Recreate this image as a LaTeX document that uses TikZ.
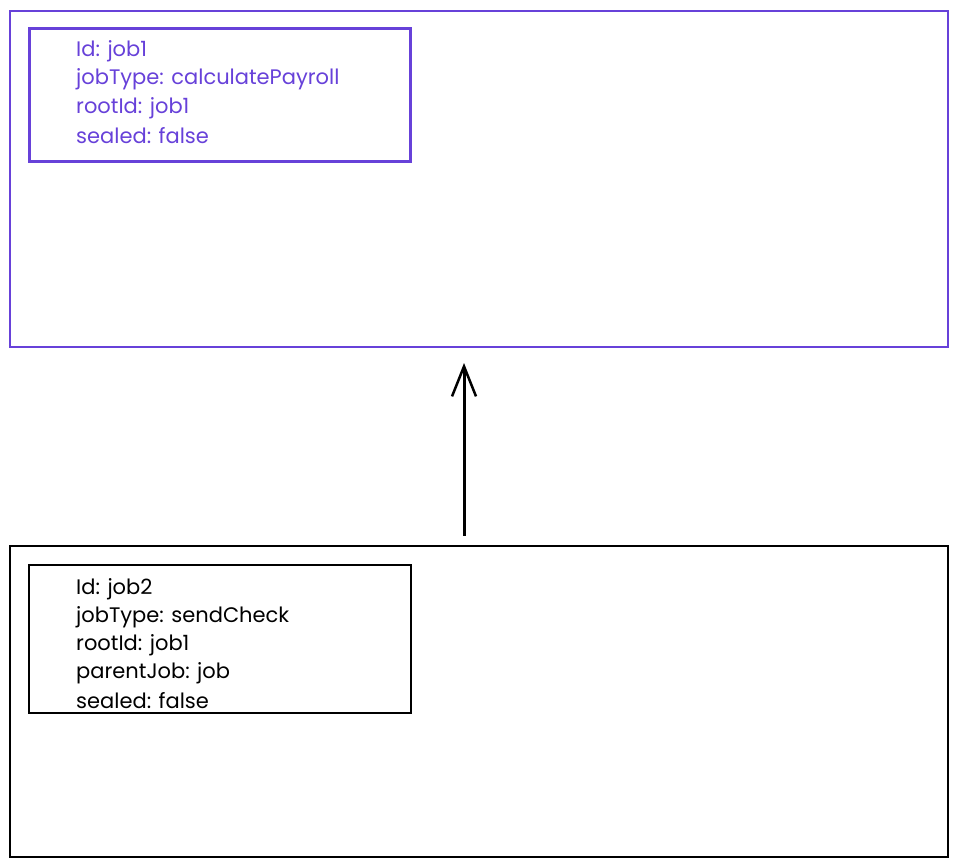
\documentclass[tikz,border=0pt]{standalone}
\usepackage{fontspec}
\setmainfont{Poppins}
\usetikzlibrary{arrows.meta}
\definecolor{violet}{RGB}{103,65,217}
\tikzset{
  box/.style={draw, rectangle, inner sep=0pt},
  outerbox/.style={box, line width=2pt},
  innerbox/.style={box, line width=3pt},
  txt/.style={anchor=west, inner sep=0pt, font=\fontsize{21}{24}\selectfont},
  arrowline/.style={line width=3pt, -{Straight Barb[length=30pt,width=24pt,line width=2.5pt]}}
}
\begin{document}
\begin{tikzpicture}[x=1pt,y=-1pt]
\useasboundingbox (0,0) rectangle (960,867);
% top boxes
\node[outerbox, draw=violet, minimum width=938pt, minimum height=336pt] (top) at (479,179) {};
\node[innerbox, draw=violet, minimum width=381pt, minimum height=132pt] (topin) at (219.5,95) {};
\node[txt, text=violet] (t1) at (76,51) {Id: job1};
\node[txt, text=violet] (t2) at (76,79) {jobType: calculatePayroll};
\node[txt, text=violet] (t3) at (76,108) {rootId: job1};
\node[txt, text=violet] (t4) at (76,136) {sealed: false};
% bottom boxes
\node[outerbox, line width=2.5pt, minimum width=938pt, minimum height=311pt] (bot) at (479,701.5) {};
\node[innerbox, line width=2.5pt, minimum width=382pt, minimum height=148pt] (botin) at (220,639) {};
\node[txt] (b1) at (76,589) {Id: job2};
\node[txt] (b2) at (76,617) {jobType: sendCheck};
\node[txt] (b3) at (76,645) {rootId: job1};
\node[txt] (b4) at (76,673) {parentJob: job};
\node[txt] (b5) at (76,701) {sealed: false};
% arrow
\draw[arrowline, shorten <=9pt, shorten >=15pt] ([xshift=-15pt]bot.north) -- ([xshift=-15pt]top.south);
\end{tikzpicture}
\end{document}
